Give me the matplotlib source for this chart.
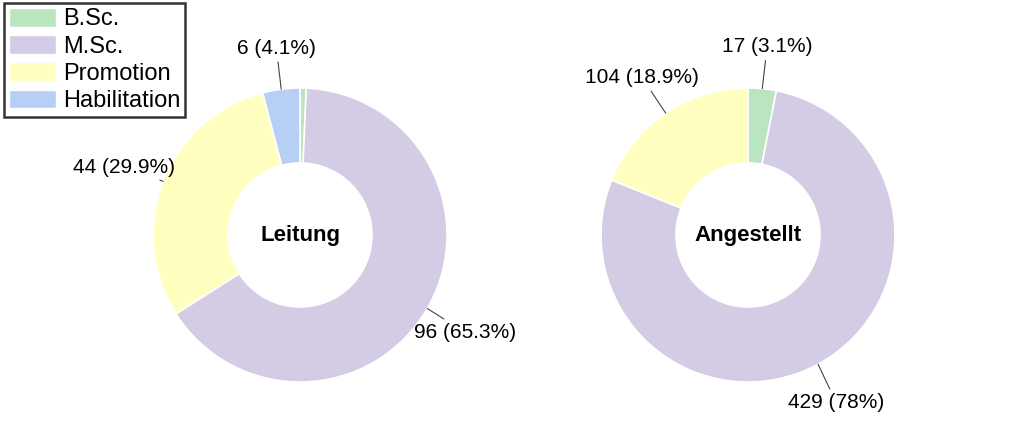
import numpy as np
import matplotlib
matplotlib.use('Agg')
import matplotlib.pyplot as plt
from matplotlib.patches import Patch

categories = ['B.Sc.', 'M.Sc.', 'Promotion', 'Habilitation']
colors = ['#b9e5c1', '#d4cbe4', '#ffffbf', '#b8cff5']

leitung = [1, 96, 44, 6]
angestellt = [17, 429, 104, 0]

# label text positions (pie radius = 1), only for labelled slices
leitung_lbl = {1: (1.12, -0.66), 2: (-1.20, 0.46), 3: (-0.16, 1.27)}
angestellt_lbl = {0: (0.13, 1.28), 1: (0.60, -1.14), 2: (-0.72, 1.07)}


def fmt(v, total):
    p = round(v / total * 100, 1)
    if p == int(p):
        return f'{v} ({int(p)}%)'
    return f'{v} ({p}%)'


def donut(ax, values, title, lbl):
    total = sum(values)
    wedges, _ = ax.pie(values, colors=colors, startangle=90, counterclock=False,
                       radius=1.0, wedgeprops=dict(width=0.51, edgecolor='white', linewidth=1.2))
    ax.set_xlim(-1, 1)
    ax.set_ylim(-1, 1)
    ax.set_aspect('equal')
    ax.text(0, 0, title, ha='center', va='center', fontsize=16, fontweight='bold')
    for i, w in enumerate(wedges):
        if i not in lbl:
            continue
        ang = np.deg2rad((w.theta1 + w.theta2) / 2)
        x, y = np.cos(ang), np.sin(ang)
        ax.annotate(fmt(values[i], total), xy=(x, y), xytext=lbl[i],
                    ha='center', va='center', fontsize=15, annotation_clip=False,
                    arrowprops=dict(arrowstyle='-', color='#444444', lw=0.8,
                                    shrinkA=1, shrinkB=0))


plt.rcParams['font.family'] = ['Liberation Sans', 'DejaVu Sans']
W, H = 1024, 445
fig = plt.figure(figsize=(W / 100, H / 100), dpi=100)
R = 147
for cx, vals, title, lbl in [(300, leitung, 'Leitung', leitung_lbl),
                             (748, angestellt, 'Angestellt', angestellt_lbl)]:
    cy = H - 235
    ax = fig.add_axes([(cx - R) / W, (cy - R) / H, 2 * R / W, 2 * R / H])
    donut(ax, vals, title, lbl)

handles = [Patch(facecolor=c, edgecolor='white') for c in colors]
leg = fig.legend(handles, categories, loc='upper left', bbox_to_anchor=(4 / W, 1 - 3 / H),
                 fontsize=17, frameon=True, fancybox=False, handlelength=2.0,
                 handleheight=0.85, labelspacing=0.2, handletextpad=0.3,
                 borderpad=0.2, borderaxespad=0)
leg.get_frame().set_edgecolor('black')
leg.get_frame().set_linewidth(1.8)

fig.savefig('out.png', dpi=100)
